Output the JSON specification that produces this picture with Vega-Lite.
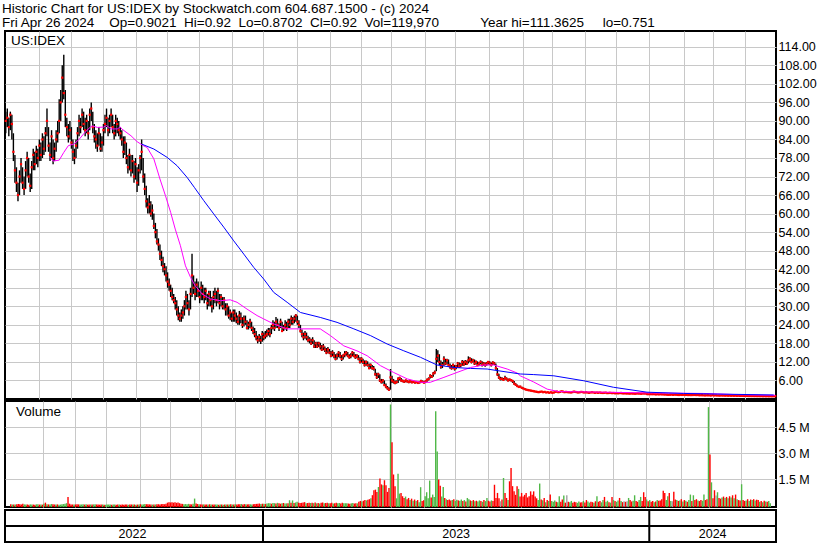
{
"$schema":"https://vega.github.io/schema/vega-lite/v6.json",
"background":"white",
"padding":{"left":2,"top":2,"right":0,"bottom":0},
"spacing":0,
"title":{"text":["Historic Chart for US:IDEX by Stockwatch.com 604.687.1500 - (c) 2024","Fri Apr 26 2024 \u00a0\u00a0\u00a0Op=0.9021 \u00a0Hi=0.92 \u00a0Lo=0.8702 \u00a0Cl=0.92 \u00a0Vol=119,970 \u00a0\u00a0\u00a0\u00a0\u00a0\u00a0\u00a0\u00a0\u00a0\u00a0Year hi=111.3625 \u00a0\u00a0\u00a0\u00a0lo=0.751"],"anchor":"start","font":"Liberation Sans","fontSize":13.5,"fontWeight":"normal","lineHeight":13.5,"color":"black","offset":1,"dx":-1},
"config":{"view":{"stroke":"black","strokeWidth":2},"axis":{"labelFont":"Liberation Sans","labelFontSize":12.5,"labelColor":"black","gridColor":"#c8c8c8","gridWidth":1,"ticks":false,"domain":false,"title":null,"labelOverlap":false}},
"datasets":{
"px":[
{"i":0,"h":93,"l":86,"c":90,"v":60,"s":"d"},{"i":1,"h":94,"l":88,"c":91,"v":45,"s":"u"},{"i":2,"h":91,"l":85,"c":88,"v":50,"s":"d"},{"i":3,"h":93,"l":87,"c":92,"v":40,"s":"u"},{"i":4,"h":92,"l":84,"c":89,"v":55,"s":"d"},
{"i":5,"h":86,"l":77,"c":80,"v":70,"s":"d"},{"i":6,"h":79,"l":70,"c":74,"v":60,"s":"d"},{"i":7,"h":75,"l":67,"c":70,"v":45,"s":"d"},{"i":8,"h":70,"l":64,"c":66,"v":80,"s":"d"},{"i":9,"h":74,"l":66,"c":72,"v":50,"s":"u"},
{"i":10,"h":78,"l":70,"c":76,"v":40,"s":"u"},{"i":11,"h":75,"l":68,"c":70,"v":45,"s":"d"},{"i":12,"h":72,"l":66,"c":68,"v":35,"s":"d"},{"i":13,"h":77,"l":68,"c":74,"v":50,"s":"u"},{"i":14,"h":80,"l":72,"c":78,"v":45,"s":"u"},
{"i":15,"h":78,"l":70,"c":72,"v":40,"s":"d"},{"i":16,"h":73,"l":67,"c":69,"v":35,"s":"d"},{"i":17,"h":77,"l":68,"c":75,"v":55,"s":"u"},{"i":18,"h":81,"l":74,"c":79,"v":60,"s":"u"},{"i":19,"h":80,"l":74,"c":76,"v":40,"s":"d"},
{"i":20,"h":82,"l":76,"c":80,"v":45,"s":"u"},{"i":21,"h":81,"l":75,"c":78,"v":35,"s":"d"},{"i":22,"h":84,"l":77,"c":82,"v":90,"s":"u"},{"i":23,"h":83,"l":77,"c":79,"v":150,"s":"d"},{"i":24,"h":86,"l":78,"c":84,"v":60,"s":"u"},
{"i":25,"h":85,"l":79,"c":81,"v":50,"s":"d"},{"i":26,"h":88,"l":80,"c":86,"v":45,"s":"u"},{"i":27,"h":94,"l":85,"c":90,"v":70,"s":"u"},{"i":28,"h":88,"l":80,"c":82,"v":55,"s":"d"},{"i":29,"h":83,"l":77,"c":79,"v":45,"s":"d"},
{"i":30,"h":87,"l":78,"c":85,"v":40,"s":"u"},{"i":31,"h":84,"l":76,"c":78,"v":50,"s":"d"},{"i":32,"h":83,"l":77,"c":81,"v":35,"s":"u"},{"i":33,"h":87,"l":80,"c":84,"v":40,"s":"u"},{"i":34,"h":90,"l":83,"c":86,"v":60,"s":"u"},
{"i":35,"h":97,"l":86,"c":90,"v":70,"s":"u"},{"i":36,"h":100,"l":90,"c":96,"v":80,"s":"u"},{"i":37,"h":108,"l":96,"c":104,"v":120,"s":"u"},{"i":38,"h":111.4,"l":97,"c":99,"v":480,"s":"d"},{"i":39,"h":100,"l":88,"c":92,"v":90,"s":"d"},
{"i":40,"h":91,"l":85,"c":88,"v":50,"s":"d"},{"i":41,"h":89,"l":83,"c":85,"v":45,"s":"d"},{"i":42,"h":90,"l":84,"c":87,"v":40,"s":"u"},{"i":43,"h":88,"l":81,"c":83,"v":45,"s":"d"},{"i":44,"h":84,"l":77,"c":80,"v":55,"s":"d"},
{"i":45,"h":81,"l":76,"c":78,"v":50,"s":"d"},{"i":46,"h":84,"l":78,"c":82,"v":40,"s":"u"},{"i":47,"h":88,"l":81,"c":86,"v":45,"s":"u"},{"i":48,"h":92,"l":85,"c":90,"v":60,"s":"u"},{"i":49,"h":91,"l":86,"c":88,"v":40,"s":"d"},
{"i":50,"h":94,"l":88,"c":92,"v":55,"s":"u"},{"i":51,"h":93,"l":87,"c":89,"v":35,"s":"d"},{"i":52,"h":91,"l":85,"c":87,"v":40,"s":"d"},{"i":53,"h":92,"l":86,"c":90,"v":45,"s":"u"},{"i":54,"h":90,"l":84,"c":86,"v":40,"s":"d"},
{"i":55,"h":94,"l":87,"c":92,"v":50,"s":"u"},{"i":56,"h":96,"l":90,"c":94,"v":60,"s":"u"},{"i":57,"h":93,"l":86,"c":88,"v":45,"s":"d"},{"i":58,"h":89,"l":83,"c":85,"v":40,"s":"d"},{"i":59,"h":87,"l":81,"c":84,"v":35,"s":"d"},
{"i":60,"h":86,"l":80,"c":82,"v":40,"s":"d"},{"i":61,"h":88,"l":82,"c":86,"v":45,"s":"u"},{"i":62,"h":86,"l":80,"c":81,"v":35,"s":"d"},{"i":63,"h":85,"l":80,"c":83,"v":30,"s":"u"},{"i":64,"h":89,"l":82,"c":87,"v":40,"s":"u"},
{"i":65,"h":92,"l":86,"c":89,"v":45,"s":"u"},{"i":66,"h":94,"l":88,"c":91,"v":50,"s":"u"},{"i":67,"h":91,"l":85,"c":87,"v":35,"s":"d"},{"i":68,"h":92,"l":86,"c":90,"v":40,"s":"u"},{"i":69,"h":94,"l":88,"c":92,"v":45,"s":"u"},
{"i":70,"h":92,"l":86,"c":88,"v":35,"s":"d"},{"i":71,"h":89,"l":84,"c":86,"v":40,"s":"d"},{"i":72,"h":92,"l":85,"c":90,"v":45,"s":"u"},{"i":73,"h":91,"l":86,"c":89,"v":35,"s":"d"},{"i":74,"h":90,"l":85,"c":87,"v":40,"s":"d"},
{"i":75,"h":88,"l":84,"c":86,"v":35,"s":"d"},{"i":76,"h":87,"l":82,"c":84,"v":40,"s":"d"},{"i":77,"h":85,"l":78,"c":80,"v":45,"s":"d"},{"i":78,"h":85,"l":79,"c":83,"v":35,"s":"u"},{"i":79,"h":83,"l":76,"c":78,"v":50,"s":"d"},
{"i":80,"h":79,"l":73,"c":75,"v":45,"s":"d"},{"i":81,"h":81,"l":74,"c":79,"v":40,"s":"u"},{"i":82,"h":79,"l":72,"c":74,"v":45,"s":"d"},{"i":83,"h":79,"l":73,"c":77,"v":35,"s":"u"},{"i":84,"h":77,"l":70,"c":72,"v":40,"s":"d"},
{"i":85,"h":78,"l":71,"c":76,"v":45,"s":"u"},{"i":86,"h":75,"l":67,"c":70,"v":60,"s":"d"},{"i":87,"h":76,"l":69,"c":74,"v":45,"s":"u"},{"i":88,"h":79,"l":73,"c":78,"v":50,"s":"u"},{"i":89,"h":84,"l":74,"c":80,"v":70,"s":"u"},
{"i":90,"h":78,"l":70,"c":72,"v":60,"s":"d"},{"i":91,"h":73,"l":66,"c":68,"v":55,"s":"d"},{"i":92,"h":69,"l":62,"c":64,"v":50,"s":"d"},{"i":93,"h":65,"l":60,"c":62,"v":45,"s":"d"},{"i":94,"h":66,"l":60,"c":63,"v":40,"s":"u"},
{"i":95,"h":64,"l":59,"c":60,"v":50,"s":"d"},{"i":96,"h":63,"l":58,"c":61,"v":45,"s":"u"},{"i":97,"h":60,"l":55,"c":56,"v":55,"s":"d"},{"i":98,"h":57,"l":52,"c":54,"v":60,"s":"d"},{"i":99,"h":55,"l":50,"c":51,"v":50,"s":"d"},
{"i":100,"h":52,"l":48,"c":50,"v":65,"s":"d"},{"i":101,"h":50,"l":45,"c":47,"v":70,"s":"d"},{"i":102,"h":48,"l":43,"c":45,"v":60,"s":"d"},{"i":103,"h":46,"l":41,"c":43,"v":80,"s":"d"},{"i":104,"h":44,"l":40,"c":42,"v":150,"s":"d"},
{"i":105,"h":43,"l":38,"c":40,"v":170,"s":"d"},{"i":106,"h":41,"l":36,"c":38,"v":160,"s":"d"},{"i":107,"h":39,"l":35,"c":37,"v":180,"s":"d"},{"i":108,"h":37,"l":33,"c":35,"v":150,"s":"d"},{"i":109,"h":36,"l":32,"c":33,"v":170,"s":"d"},
{"i":110,"h":34,"l":31,"c":32,"v":140,"s":"d"},{"i":111,"h":33,"l":29,"c":31,"v":160,"s":"d"},{"i":112,"h":32,"l":27,"c":29,"v":120,"s":"d"},{"i":113,"h":30,"l":25.5,"c":27,"v":90,"s":"d"},{"i":114,"h":28,"l":25,"c":26,"v":80,"s":"d"},
{"i":115,"h":29,"l":25,"c":27,"v":60,"s":"u"},{"i":116,"h":30,"l":26,"c":28,"v":70,"s":"u"},{"i":117,"h":32,"l":27,"c":30,"v":60,"s":"u"},{"i":118,"h":35,"l":29,"c":33,"v":80,"s":"u"},{"i":119,"h":34,"l":29,"c":31,"v":60,"s":"d"},
{"i":120,"h":32,"l":27,"c":29,"v":50,"s":"d"},{"i":121,"h":36,"l":29,"c":34,"v":90,"s":"u"},{"i":122,"h":47,"l":33,"c":40,"v":385,"s":"u"},{"i":123,"h":40,"l":34,"c":36,"v":100,"s":"d"},{"i":124,"h":38,"l":32,"c":34,"v":70,"s":"d"},
{"i":125,"h":39,"l":33,"c":37,"v":60,"s":"u"},{"i":126,"h":38,"l":33,"c":35,"v":50,"s":"d"},{"i":127,"h":36,"l":31,"c":33,"v":45,"s":"d"},{"i":128,"h":38,"l":32,"c":36,"v":50,"s":"u"},{"i":129,"h":37,"l":32,"c":34,"v":40,"s":"d"},
{"i":130,"h":36,"l":31,"c":33,"v":45,"s":"d"},{"i":131,"h":36,"l":32,"c":35,"v":40,"s":"u"},{"i":132,"h":34,"l":29,"c":31,"v":55,"s":"d"},{"i":133,"h":35,"l":30,"c":34,"v":45,"s":"u"},{"i":134,"h":35,"l":30,"c":32,"v":40,"s":"d"},
{"i":135,"h":33,"l":28,"c":30,"v":50,"s":"d"},{"i":136,"h":35,"l":29,"c":33,"v":45,"s":"u"},{"i":137,"h":36,"l":31,"c":34,"v":40,"s":"u"},{"i":138,"h":35,"l":30,"c":32,"v":35,"s":"d"},{"i":139,"h":36,"l":31,"c":35,"v":45,"s":"u"},
{"i":140,"h":34,"l":29,"c":31,"v":40,"s":"d"},{"i":141,"h":34,"l":30,"c":33,"v":35,"s":"u"},{"i":142,"h":33,"l":29,"c":30,"v":45,"s":"d"},{"i":143,"h":33,"l":29,"c":32,"v":40,"s":"u"},{"i":144,"h":31,"l":27,"c":29,"v":50,"s":"d"},
{"i":145,"h":31,"l":27,"c":30,"v":45,"s":"u"},{"i":146,"h":30,"l":26,"c":27,"v":55,"s":"d"},{"i":147,"h":29,"l":25.5,"c":28,"v":50,"s":"u"},{"i":148,"h":28,"l":25,"c":26,"v":45,"s":"d"},{"i":149,"h":29,"l":25,"c":28,"v":60,"s":"u"},
{"i":150,"h":29,"l":25,"c":27,"v":50,"s":"d"},{"i":151,"h":28,"l":24.5,"c":26,"v":55,"s":"d"},{"i":152,"h":27,"l":24,"c":25,"v":60,"s":"d"},{"i":153,"h":28.5,"l":24,"c":27,"v":70,"s":"u"},{"i":154,"h":28,"l":24.5,"c":26,"v":50,"s":"d"},
{"i":155,"h":26.5,"l":23,"c":24,"v":65,"s":"d"},{"i":156,"h":27,"l":23.5,"c":26,"v":55,"s":"u"},{"i":157,"h":27,"l":24,"c":25,"v":50,"s":"d"},{"i":158,"h":25.5,"l":22.5,"c":23,"v":60,"s":"d"},{"i":159,"h":25,"l":22.5,"c":24,"v":55,"s":"u"},
{"i":160,"h":26,"l":23,"c":25,"v":45,"s":"u"},{"i":161,"h":25,"l":22,"c":23,"v":60,"s":"d"},{"i":162,"h":23.5,"l":21,"c":22,"v":70,"s":"d"},{"i":163,"h":23,"l":20,"c":21,"v":80,"s":"d"},{"i":164,"h":22,"l":19,"c":20,"v":90,"s":"d"},
{"i":165,"h":20.5,"l":18,"c":19,"v":100,"s":"d"},{"i":166,"h":21,"l":18.5,"c":20,"v":70,"s":"u"},{"i":167,"h":20.5,"l":17.8,"c":19,"v":90,"s":"d"},{"i":168,"h":22,"l":18.5,"c":21,"v":80,"s":"u"},{"i":169,"h":21.5,"l":19,"c":20,"v":70,"s":"d"},
{"i":170,"h":22,"l":19.5,"c":20.5,"v":100,"s":"u"},{"i":171,"h":22.5,"l":20,"c":21,"v":120,"s":"u"},{"i":172,"h":23,"l":20.5,"c":22,"v":110,"s":"u"},{"i":173,"h":23,"l":20,"c":21,"v":90,"s":"d"},{"i":174,"h":24,"l":21,"c":23,"v":130,"s":"u"},
{"i":175,"h":25.5,"l":22.5,"c":24,"v":120,"s":"u"},{"i":176,"h":25,"l":22,"c":23,"v":100,"s":"d"},{"i":177,"h":26.5,"l":23,"c":25,"v":140,"s":"u"},{"i":178,"h":26,"l":23,"c":24,"v":110,"s":"d"},{"i":179,"h":24.5,"l":22,"c":23,"v":90,"s":"d"},
{"i":180,"h":26,"l":23,"c":25,"v":120,"s":"u"},{"i":181,"h":25,"l":21.7,"c":22,"v":130,"s":"d"},{"i":182,"h":24,"l":22,"c":23,"v":100,"s":"u"},{"i":183,"h":25.5,"l":22.5,"c":24,"v":110,"s":"u"},{"i":184,"h":25,"l":22,"c":23,"v":120,"s":"d"},
{"i":185,"h":26,"l":23,"c":25,"v":290,"s":"u"},{"i":186,"h":26,"l":23,"c":24,"v":150,"s":"d"},{"i":187,"h":27,"l":24,"c":26,"v":280,"s":"u"},{"i":188,"h":26.5,"l":24,"c":25,"v":130,"s":"d"},{"i":189,"h":27,"l":24.5,"c":26,"v":160,"s":"u"},
{"i":190,"h":27.5,"l":25,"c":27,"v":200,"s":"u"},{"i":191,"h":27,"l":24,"c":25,"v":150,"s":"d"},{"i":192,"h":25.5,"l":23,"c":24,"v":130,"s":"d"},{"i":193,"h":24,"l":21.5,"c":22,"v":140,"s":"d"},{"i":194,"h":22.5,"l":20,"c":21,"v":160,"s":"d"},
{"i":195,"h":21.5,"l":19,"c":20,"v":180,"s":"d"},{"i":196,"h":22,"l":19.5,"c":21,"v":120,"s":"u"},{"i":197,"h":21.5,"l":19,"c":20,"v":130,"s":"d"},{"i":198,"h":20.5,"l":18.4,"c":19,"v":150,"s":"d"},{"i":199,"h":20,"l":18,"c":19.2,"v":130,"s":"u"},
{"i":200,"h":19.5,"l":17.5,"c":18,"v":150,"s":"d"},{"i":201,"h":20,"l":17.8,"c":19,"v":120,"s":"u"},{"i":202,"h":19,"l":16.5,"c":17,"v":160,"s":"d"},{"i":203,"h":18.5,"l":16.5,"c":18,"v":110,"s":"u"},{"i":204,"h":18.5,"l":16.5,"c":17,"v":130,"s":"d"},
{"i":205,"h":18.5,"l":16.8,"c":18,"v":100,"s":"u"},{"i":206,"h":18.2,"l":16,"c":17,"v":140,"s":"d"},{"i":207,"h":17.5,"l":15.5,"c":16,"v":160,"s":"d"},{"i":208,"h":17.8,"l":15.8,"c":17,"v":120,"s":"u"},{"i":209,"h":17,"l":15.2,"c":16,"v":130,"s":"d"},
{"i":210,"h":16.5,"l":14.5,"c":15,"v":150,"s":"d"},{"i":211,"h":16.8,"l":14.8,"c":16,"v":110,"s":"u"},{"i":212,"h":16.2,"l":14.5,"c":15,"v":120,"s":"d"},{"i":213,"h":15.5,"l":13.5,"c":14,"v":140,"s":"d"},{"i":214,"h":15.8,"l":13.8,"c":15,"v":100,"s":"u"},
{"i":215,"h":15.2,"l":13.2,"c":14,"v":120,"s":"d"},{"i":216,"h":14.5,"l":12.5,"c":13,"v":150,"s":"d"},{"i":217,"h":14.8,"l":12.8,"c":14,"v":110,"s":"u"},{"i":218,"h":15.5,"l":13.5,"c":15,"v":130,"s":"u"},{"i":219,"h":15.2,"l":13.2,"c":14,"v":100,"s":"d"},
{"i":220,"h":14.2,"l":12.3,"c":13,"v":140,"s":"d"},{"i":221,"h":14.5,"l":12.8,"c":14,"v":120,"s":"u"},{"i":222,"h":15.5,"l":13.5,"c":14.5,"v":110,"s":"u"},{"i":223,"h":15.5,"l":14,"c":15,"v":120,"s":"u"},{"i":224,"h":15.2,"l":13.5,"c":14,"v":100,"s":"d"},
{"i":225,"h":14.5,"l":13,"c":13.5,"v":90,"s":"d"},{"i":226,"h":14.8,"l":13.2,"c":14,"v":110,"s":"u"},{"i":227,"h":15.5,"l":13.8,"c":15,"v":130,"s":"u"},{"i":228,"h":15.2,"l":13.5,"c":14,"v":100,"s":"d"},{"i":229,"h":14.5,"l":13,"c":13.5,"v":120,"s":"d"},
{"i":230,"h":14.5,"l":13.2,"c":14,"v":110,"s":"u"},{"i":231,"h":14.2,"l":12.5,"c":13,"v":200,"s":"d"},{"i":232,"h":13.5,"l":11.5,"c":12,"v":250,"s":"d"},{"i":233,"h":13.5,"l":11.8,"c":13,"v":220,"s":"u"},{"i":234,"h":13,"l":11.3,"c":12,"v":260,"s":"d"},
{"i":235,"h":12.5,"l":10.5,"c":11,"v":300,"s":"d"},{"i":236,"h":12.5,"l":10.8,"c":12,"v":280,"s":"u"},{"i":237,"h":12.2,"l":10.5,"c":11,"v":320,"s":"d"},{"i":238,"h":11.5,"l":9.6,"c":10,"v":350,"s":"d"},{"i":239,"h":11.5,"l":9.8,"c":11,"v":400,"s":"u"},
{"i":240,"h":11,"l":9.5,"c":10,"v":580,"s":"d"},{"i":241,"h":10.7,"l":9.2,"c":9.8,"v":865,"s":"d"},{"i":242,"h":9.8,"l":7.5,"c":8,"v":900,"s":"d"},{"i":243,"h":8.5,"l":6.5,"c":7,"v":770,"s":"d"},{"i":244,"h":8.5,"l":6.8,"c":8,"v":1050,"s":"u"},
{"i":245,"h":8,"l":5.5,"c":6,"v":1540,"s":"d"},{"i":246,"h":6.5,"l":5,"c":5.5,"v":1200,"s":"d"},{"i":247,"h":6.5,"l":5,"c":6,"v":1150,"s":"u"},{"i":248,"h":6,"l":4.2,"c":4.5,"v":1440,"s":"d"},{"i":249,"h":5,"l":3.5,"c":4,"v":1150,"s":"d"},
{"i":250,"h":4.2,"l":3,"c":3.5,"v":770,"s":"d"},{"i":251,"h":3.8,"l":2.6,"c":3,"v":1000,"s":"d"},{"i":252,"h":9.7,"l":3,"c":7,"v":5800,"s":"u"},{"i":253,"h":7.5,"l":5.2,"c":6,"v":3630,"s":"d"},{"i":254,"h":6.5,"l":5,"c":5.6,"v":1770,"s":"d"},
{"i":255,"h":6,"l":4.8,"c":5.2,"v":1100,"s":"d"},{"i":256,"h":6,"l":5,"c":5.5,"v":400,"s":"u"},{"i":257,"h":7,"l":5.2,"c":6.5,"v":1820,"s":"u"},{"i":258,"h":7.2,"l":6,"c":6.8,"v":670,"s":"u"},{"i":259,"h":6.8,"l":5.6,"c":6,"v":710,"s":"d"},
{"i":260,"h":6.3,"l":5.4,"c":5.8,"v":520,"s":"d"},{"i":261,"h":6,"l":5.2,"c":5.6,"v":420,"s":"d"},{"i":262,"h":6.3,"l":5.4,"c":6,"v":500,"s":"u"},{"i":263,"h":6.1,"l":5.3,"c":5.7,"v":350,"s":"d"},{"i":264,"h":5.9,"l":5.1,"c":5.5,"v":420,"s":"d"},
{"i":265,"h":6.1,"l":5.3,"c":5.8,"v":300,"s":"u"},{"i":266,"h":5.9,"l":5.1,"c":5.4,"v":380,"s":"d"},{"i":267,"h":5.9,"l":5.2,"c":5.6,"v":260,"s":"u"},{"i":268,"h":5.7,"l":5,"c":5.3,"v":330,"s":"d"},{"i":269,"h":5.8,"l":5.1,"c":5.5,"v":250,"s":"u"},
{"i":270,"h":5.6,"l":4.9,"c":5.2,"v":300,"s":"d"},{"i":271,"h":5.7,"l":5,"c":5.4,"v":180,"s":"u"},{"i":272,"h":6.2,"l":5.2,"c":5.8,"v":1040,"s":"u"},{"i":273,"h":6,"l":5.2,"c":5.5,"v":250,"s":"d"},{"i":274,"h":5.8,"l":5,"c":5.3,"v":290,"s":"d"},
{"i":275,"h":6,"l":5.2,"c":5.7,"v":520,"s":"u"},{"i":276,"h":6.6,"l":5.6,"c":6.2,"v":750,"s":"u"},{"i":277,"h":7,"l":6,"c":6.5,"v":400,"s":"u"},{"i":278,"h":8,"l":6.6,"c":7.5,"v":1420,"s":"u"},{"i":279,"h":7.8,"l":6.8,"c":7.2,"v":450,"s":"d"},
{"i":280,"h":8.7,"l":7.2,"c":8.2,"v":615,"s":"u"},{"i":281,"h":9.2,"l":8,"c":8.6,"v":480,"s":"u"},{"i":282,"h":16.2,"l":9,"c":13,"v":5410,"s":"u"},{"i":283,"h":15.8,"l":12,"c":14,"v":3100,"s":"u"},{"i":284,"h":14.5,"l":11,"c":12,"v":1480,"s":"d"},
{"i":285,"h":12.5,"l":9.8,"c":10.5,"v":1130,"s":"d"},{"i":286,"h":12,"l":10,"c":11,"v":500,"s":"u"},{"i":287,"h":13.8,"l":10.8,"c":13,"v":1050,"s":"u"},{"i":288,"h":13,"l":11,"c":11.5,"v":420,"s":"d"},{"i":289,"h":13,"l":11.2,"c":12.5,"v":350,"s":"u"},
{"i":290,"h":12.8,"l":10.5,"c":11,"v":300,"s":"d"},{"i":291,"h":11.5,"l":9.8,"c":10.5,"v":330,"s":"d"},{"i":292,"h":11,"l":9.5,"c":10,"v":280,"s":"d"},{"i":293,"h":11.5,"l":9.8,"c":11,"v":300,"s":"u"},{"i":294,"h":11,"l":9.2,"c":9.8,"v":350,"s":"d"},
{"i":295,"h":11,"l":9.6,"c":10.5,"v":250,"s":"u"},{"i":296,"h":12,"l":10.2,"c":11.5,"v":320,"s":"u"},{"i":297,"h":11.8,"l":10,"c":10.5,"v":280,"s":"d"},{"i":298,"h":11.6,"l":10.3,"c":11,"v":260,"s":"u"},{"i":299,"h":12.6,"l":10.8,"c":12,"v":330,"s":"u"},
{"i":300,"h":12.4,"l":10.8,"c":11.2,"v":240,"s":"d"},{"i":301,"h":12.6,"l":11,"c":12,"v":300,"s":"u"},{"i":302,"h":12.5,"l":11,"c":11.5,"v":220,"s":"d"},{"i":303,"h":13.8,"l":11.5,"c":12.5,"v":420,"s":"u"},{"i":304,"h":13.5,"l":12,"c":13,"v":350,"s":"u"},
{"i":305,"h":13.2,"l":11.5,"c":12,"v":280,"s":"d"},{"i":306,"h":13,"l":11.8,"c":12.5,"v":250,"s":"u"},{"i":307,"h":12.8,"l":11,"c":11.5,"v":300,"s":"d"},{"i":308,"h":12.5,"l":11.2,"c":12,"v":230,"s":"u"},{"i":309,"h":12.2,"l":10.6,"c":11,"v":260,"s":"d"},
{"i":310,"h":12,"l":10.8,"c":11.5,"v":210,"s":"u"},{"i":311,"h":12.5,"l":11.2,"c":12,"v":280,"s":"u"},{"i":312,"h":12.2,"l":10.5,"c":11,"v":250,"s":"d"},{"i":313,"h":12,"l":10.8,"c":11.5,"v":200,"s":"u"},{"i":314,"h":11.8,"l":10.4,"c":11,"v":300,"s":"d"},
{"i":315,"h":12,"l":10.8,"c":11.5,"v":240,"s":"u"},{"i":316,"h":12.3,"l":11.2,"c":12,"v":420,"s":"u"},{"i":317,"h":12.2,"l":11,"c":11.5,"v":260,"s":"d"},{"i":318,"h":11.8,"l":10.5,"c":11,"v":220,"s":"d"},{"i":319,"h":12.2,"l":11,"c":11.8,"v":280,"s":"u"},
{"i":320,"h":12,"l":11,"c":11.5,"v":250,"s":"d"},{"i":321,"h":11.5,"l":9.5,"c":10,"v":1180,"s":"d"},{"i":322,"h":10,"l":7.5,"c":8,"v":420,"s":"d"},{"i":323,"h":8.2,"l":6.5,"c":7,"v":710,"s":"d"},{"i":324,"h":7.2,"l":6,"c":6.5,"v":400,"s":"d"},
{"i":325,"h":7,"l":6.1,"c":6.5,"v":230,"s":"n"},{"i":326,"h":6.8,"l":5.9,"c":6.2,"v":330,"s":"d"},{"i":327,"h":7.5,"l":6.2,"c":6.8,"v":1570,"s":"u"},{"i":328,"h":7,"l":6,"c":6.5,"v":710,"s":"d"},{"i":329,"h":6.6,"l":5.7,"c":6,"v":420,"s":"d"},
{"i":330,"h":6.6,"l":5.8,"c":6.3,"v":300,"s":"u"},{"i":331,"h":6.5,"l":5.7,"c":6.1,"v":1380,"s":"d"},{"i":332,"h":6.2,"l":5.2,"c":5.8,"v":2150,"s":"d"},{"i":333,"h":5.8,"l":4.6,"c":5,"v":1100,"s":"d"},{"i":334,"h":5.1,"l":4.3,"c":4.6,"v":800,"s":"d"},
{"i":335,"h":4.7,"l":3.9,"c":4.2,"v":600,"s":"d"},{"i":336,"h":4.3,"l":3.6,"c":3.9,"v":1100,"s":"d"},{"i":337,"h":4.3,"l":3.7,"c":4,"v":940,"s":"u"},{"i":338,"h":4,"l":3.4,"c":3.6,"v":500,"s":"d"},{"i":339,"h":3.7,"l":3.2,"c":3.4,"v":710,"s":"d"},
{"i":340,"h":3.5,"l":3,"c":3.2,"v":500,"s":"d"},{"i":341,"h":3.3,"l":2.8,"c":3,"v":600,"s":"d"},{"i":342,"h":3.1,"l":2.7,"c":2.9,"v":710,"s":"d"},{"i":343,"h":3,"l":2.6,"c":2.8,"v":450,"s":"d"},{"i":344,"h":2.9,"l":2.5,"c":2.7,"v":520,"s":"d"},
{"i":345,"h":2.8,"l":2.4,"c":2.6,"v":800,"s":"d"},{"i":346,"h":2.7,"l":2.3,"c":2.5,"v":600,"s":"d"},{"i":347,"h":2.6,"l":2.2,"c":2.4,"v":800,"s":"d"},{"i":348,"h":2.5,"l":2.1,"c":2.3,"v":500,"s":"d"},{"i":349,"h":2.4,"l":2.05,"c":2.2,"v":400,"s":"d"},
{"i":350,"h":2.5,"l":2.1,"c":2.3,"v":300,"s":"u"},{"i":351,"h":2.6,"l":2.2,"c":2.4,"v":1250,"s":"u"},{"i":352,"h":2.45,"l":2.1,"c":2.2,"v":330,"s":"d"},{"i":353,"h":2.4,"l":2.1,"c":2.3,"v":290,"s":"u"},{"i":354,"h":2.3,"l":2,"c":2.1,"v":420,"s":"d"},
{"i":355,"h":2.3,"l":2,"c":2.2,"v":180,"s":"u"},{"i":356,"h":2.25,"l":1.95,"c":2,"v":300,"s":"d"},{"i":357,"h":2.3,"l":2,"c":2.2,"v":250,"s":"u"},{"i":358,"h":2.25,"l":1.9,"c":2,"v":615,"s":"d"},{"i":359,"h":2.2,"l":1.95,"c":2.1,"v":250,"s":"u"},
{"i":360,"h":2.4,"l":2.05,"c":2.3,"v":200,"s":"u"},{"i":361,"h":2.5,"l":2.2,"c":2.4,"v":280,"s":"u"},{"i":362,"h":2.45,"l":2.1,"c":2.2,"v":200,"s":"d"},{"i":363,"h":2.4,"l":2.15,"c":2.3,"v":180,"s":"u"},{"i":364,"h":2.6,"l":2.25,"c":2.5,"v":520,"s":"u"},
{"i":365,"h":2.55,"l":2.3,"c":2.4,"v":200,"s":"d"},{"i":366,"h":2.45,"l":2.1,"c":2.2,"v":330,"s":"d"},{"i":367,"h":2.4,"l":2.15,"c":2.3,"v":560,"s":"u"},{"i":368,"h":2.35,"l":2.1,"c":2.2,"v":150,"s":"d"},{"i":369,"h":2.3,"l":2.1,"c":2.2,"v":575,"s":"n"},
{"i":370,"h":2.25,"l":2,"c":2.1,"v":200,"s":"d"},{"i":371,"h":2.3,"l":2.05,"c":2.2,"v":180,"s":"u"},{"i":372,"h":2.5,"l":2.15,"c":2.4,"v":250,"s":"u"},{"i":373,"h":2.45,"l":2.2,"c":2.3,"v":150,"s":"d"},{"i":374,"h":2.35,"l":2.1,"c":2.2,"v":200,"s":"d"},
{"i":375,"h":2.25,"l":2,"c":2.1,"v":170,"s":"d"},{"i":376,"h":2.3,"l":2.05,"c":2.2,"v":140,"s":"u"},{"i":377,"h":2.35,"l":2.15,"c":2.3,"v":210,"s":"u"},{"i":378,"h":2.3,"l":2.1,"c":2.2,"v":160,"s":"d"},{"i":379,"h":2.25,"l":2,"c":2.1,"v":180,"s":"d"},
{"i":380,"h":2.3,"l":2.05,"c":2.2,"v":250,"s":"u"},{"i":381,"h":2.25,"l":2,"c":2.1,"v":160,"s":"d"},{"i":382,"h":2.15,"l":1.95,"c":2,"v":300,"s":"d"},{"i":383,"h":2.2,"l":1.95,"c":2.1,"v":220,"s":"u"},{"i":384,"h":2.3,"l":2.05,"c":2.2,"v":150,"s":"u"},
{"i":385,"h":2.25,"l":2,"c":2.1,"v":200,"s":"d"},{"i":386,"h":2.15,"l":1.9,"c":2,"v":180,"s":"d"},{"i":387,"h":2.15,"l":1.95,"c":2.1,"v":140,"s":"u"},{"i":388,"h":2.1,"l":1.9,"c":2,"v":230,"s":"d"},{"i":389,"h":2.2,"l":1.95,"c":2.1,"v":520,"s":"u"},
{"i":390,"h":2.15,"l":1.9,"c":2,"v":200,"s":"d"},{"i":391,"h":2.05,"l":1.85,"c":1.95,"v":250,"s":"d"},{"i":392,"h":2.1,"l":1.9,"c":2,"v":170,"s":"u"},{"i":393,"h":2.15,"l":1.95,"c":2.05,"v":300,"s":"u"},{"i":394,"h":2.1,"l":1.85,"c":1.9,"v":480,"s":"d"},
{"i":395,"h":2.05,"l":1.85,"c":1.95,"v":200,"s":"u"},{"i":396,"h":2.1,"l":1.9,"c":2,"v":260,"s":"u"},{"i":397,"h":2.05,"l":1.85,"c":1.9,"v":180,"s":"d"},{"i":398,"h":2,"l":1.85,"c":1.95,"v":150,"s":"u"},{"i":399,"h":2,"l":1.8,"c":1.85,"v":480,"s":"d"},
{"i":400,"h":1.95,"l":1.8,"c":1.9,"v":300,"s":"u"},{"i":401,"h":1.95,"l":1.78,"c":1.85,"v":250,"s":"d"},{"i":402,"h":1.95,"l":1.8,"c":1.9,"v":200,"s":"u"},{"i":403,"h":2,"l":1.85,"c":1.95,"v":280,"s":"u"},{"i":404,"h":1.95,"l":1.75,"c":1.8,"v":420,"s":"d"},
{"i":405,"h":1.9,"l":1.75,"c":1.85,"v":250,"s":"u"},{"i":406,"h":1.9,"l":1.72,"c":1.8,"v":180,"s":"d"},{"i":407,"h":1.85,"l":1.75,"c":1.8,"v":230,"s":"n"},{"i":408,"h":1.85,"l":1.7,"c":1.75,"v":200,"s":"d"},{"i":409,"h":1.8,"l":1.7,"c":1.75,"v":230,"s":"n"},
{"i":410,"h":1.85,"l":1.7,"c":1.8,"v":420,"s":"u"},{"i":411,"h":1.85,"l":1.7,"c":1.75,"v":300,"s":"d"},{"i":412,"h":1.8,"l":1.65,"c":1.7,"v":220,"s":"d"},{"i":413,"h":1.8,"l":1.65,"c":1.75,"v":260,"s":"u"},{"i":414,"h":1.85,"l":1.7,"c":1.8,"v":575,"s":"u"},
{"i":415,"h":1.85,"l":1.7,"c":1.75,"v":250,"s":"d"},{"i":416,"h":1.8,"l":1.65,"c":1.7,"v":200,"s":"d"},{"i":417,"h":1.8,"l":1.68,"c":1.75,"v":300,"s":"u"},{"i":418,"h":1.85,"l":1.7,"c":1.8,"v":480,"s":"u"},{"i":419,"h":1.85,"l":1.7,"c":1.75,"v":250,"s":"d"},
{"i":420,"h":1.75,"l":1.55,"c":1.6,"v":750,"s":"d"},{"i":421,"h":1.65,"l":1.5,"c":1.55,"v":480,"s":"d"},{"i":422,"h":1.65,"l":1.5,"c":1.6,"v":330,"s":"u"},{"i":423,"h":1.65,"l":1.5,"c":1.55,"v":230,"s":"d"},{"i":424,"h":1.65,"l":1.52,"c":1.6,"v":300,"s":"u"},
{"i":425,"h":1.62,"l":1.5,"c":1.55,"v":200,"s":"d"},{"i":426,"h":1.6,"l":1.45,"c":1.5,"v":250,"s":"d"},{"i":427,"h":1.6,"l":1.48,"c":1.55,"v":180,"s":"u"},{"i":428,"h":1.58,"l":1.45,"c":1.5,"v":220,"s":"d"},{"i":429,"h":1.6,"l":1.48,"c":1.55,"v":300,"s":"u"},
{"i":430,"h":1.58,"l":1.45,"c":1.5,"v":260,"s":"d"},{"i":431,"h":1.55,"l":1.42,"c":1.48,"v":280,"s":"d"},{"i":432,"h":1.52,"l":1.4,"c":1.45,"v":350,"s":"d"},{"i":433,"h":1.5,"l":1.35,"c":1.4,"v":830,"s":"d"},{"i":434,"h":1.45,"l":1.3,"c":1.35,"v":710,"s":"d"},
{"i":435,"h":1.45,"l":1.32,"c":1.38,"v":300,"s":"u"},{"i":436,"h":1.48,"l":1.35,"c":1.42,"v":520,"s":"u"},{"i":437,"h":1.45,"l":1.3,"c":1.35,"v":710,"s":"d"},{"i":438,"h":1.45,"l":1.32,"c":1.4,"v":250,"s":"u"},{"i":439,"h":1.45,"l":1.35,"c":1.4,"v":230,"s":"n"},
{"i":440,"h":1.42,"l":1.28,"c":1.32,"v":780,"s":"d"},{"i":441,"h":1.38,"l":1.25,"c":1.3,"v":330,"s":"d"},{"i":442,"h":1.4,"l":1.28,"c":1.35,"v":300,"s":"u"},{"i":443,"h":1.38,"l":1.28,"c":1.32,"v":250,"s":"d"},{"i":444,"h":1.4,"l":1.3,"c":1.35,"v":280,"s":"u"},
{"i":445,"h":1.38,"l":1.25,"c":1.3,"v":350,"s":"d"},{"i":446,"h":1.36,"l":1.26,"c":1.32,"v":220,"s":"u"},{"i":447,"h":1.35,"l":1.24,"c":1.28,"v":300,"s":"d"},{"i":448,"h":1.34,"l":1.25,"c":1.3,"v":260,"s":"u"},{"i":449,"h":1.33,"l":1.22,"c":1.27,"v":200,"s":"d"},
{"i":450,"h":1.34,"l":1.24,"c":1.3,"v":300,"s":"u"},{"i":451,"h":1.36,"l":1.26,"c":1.32,"v":615,"s":"u"},{"i":452,"h":1.34,"l":1.24,"c":1.28,"v":250,"s":"d"},{"i":453,"h":1.35,"l":1.25,"c":1.3,"v":575,"s":"u"},{"i":454,"h":1.32,"l":1.2,"c":1.25,"v":300,"s":"d"},
{"i":455,"h":1.28,"l":1.18,"c":1.22,"v":350,"s":"d"},{"i":456,"h":1.3,"l":1.2,"c":1.25,"v":280,"s":"u"},{"i":457,"h":1.27,"l":1.15,"c":1.2,"v":240,"s":"d"},{"i":458,"h":1.24,"l":1.12,"c":1.18,"v":300,"s":"d"},{"i":459,"h":1.25,"l":1.14,"c":1.2,"v":260,"s":"u"},
{"i":460,"h":1.26,"l":1.16,"c":1.22,"v":615,"s":"u"},{"i":461,"h":1.24,"l":1.12,"c":1.18,"v":300,"s":"d"},{"i":462,"h":1.22,"l":1.1,"c":1.15,"v":350,"s":"d"},{"i":463,"h":1.35,"l":1.12,"c":1.25,"v":5650,"s":"u"},{"i":464,"h":1.3,"l":1.08,"c":1.15,"v":2920,"s":"d"},
{"i":465,"h":1.25,"l":1.1,"c":1.2,"v":1320,"s":"u"},{"i":466,"h":1.22,"l":1.1,"c":1.15,"v":400,"s":"d"},{"i":467,"h":1.2,"l":1.08,"c":1.12,"v":865,"s":"d"},{"i":468,"h":1.16,"l":1.08,"c":1.12,"v":560,"s":"n"},{"i":469,"h":1.2,"l":1.1,"c":1.16,"v":750,"s":"u"},
{"i":470,"h":1.18,"l":1.08,"c":1.12,"v":420,"s":"d"},{"i":471,"h":1.15,"l":1.05,"c":1.1,"v":380,"s":"d"},{"i":472,"h":1.16,"l":1.06,"c":1.12,"v":450,"s":"u"},{"i":473,"h":1.14,"l":1.04,"c":1.08,"v":500,"s":"d"},{"i":474,"h":1.14,"l":1.05,"c":1.1,"v":420,"s":"u"},
{"i":475,"h":1.12,"l":1.02,"c":1.06,"v":480,"s":"d"},{"i":476,"h":1.12,"l":1.03,"c":1.08,"v":400,"s":"u"},{"i":477,"h":1.1,"l":1,"c":1.05,"v":520,"s":"d"},{"i":478,"h":1.1,"l":1.02,"c":1.07,"v":450,"s":"u"},{"i":479,"h":1.08,"l":0.98,"c":1.03,"v":575,"s":"d"},
{"i":480,"h":1.08,"l":1,"c":1.05,"v":400,"s":"u"},{"i":481,"h":1.06,"l":0.96,"c":1,"v":615,"s":"d"},{"i":482,"h":1.06,"l":0.97,"c":1.02,"v":350,"s":"u"},{"i":483,"h":1.04,"l":0.95,"c":1,"v":300,"s":"d"},{"i":484,"h":1.03,"l":0.94,"c":0.98,"v":280,"s":"d"},
{"i":485,"h":1.08,"l":0.96,"c":1.02,"v":1210,"s":"u"},{"i":486,"h":1.04,"l":0.95,"c":0.99,"v":300,"s":"d"},{"i":487,"h":1.01,"l":0.93,"c":0.97,"v":250,"s":"d"},{"i":488,"h":1.02,"l":0.94,"c":0.98,"v":280,"s":"u"},{"i":489,"h":1,"l":0.92,"c":0.96,"v":350,"s":"d"},
{"i":490,"h":1,"l":0.93,"c":0.97,"v":250,"s":"u"},{"i":491,"h":0.99,"l":0.91,"c":0.95,"v":330,"s":"d"},{"i":492,"h":0.99,"l":0.92,"c":0.96,"v":300,"s":"u"},{"i":493,"h":0.98,"l":0.9,"c":0.94,"v":350,"s":"d"},{"i":494,"h":0.98,"l":0.91,"c":0.95,"v":280,"s":"u"},
{"i":495,"h":0.97,"l":0.89,"c":0.93,"v":320,"s":"d"},{"i":496,"h":0.96,"l":0.88,"c":0.92,"v":300,"s":"d"},{"i":497,"h":0.96,"l":0.89,"c":0.93,"v":200,"s":"u"},{"i":498,"h":0.95,"l":0.87,"c":0.91,"v":250,"s":"d"},{"i":499,"h":0.95,"l":0.88,"c":0.92,"v":180,"s":"u"},
{"i":500,"h":0.94,"l":0.86,"c":0.9,"v":260,"s":"d"},{"i":501,"h":0.94,"l":0.87,"c":0.91,"v":220,"s":"u"},{"i":502,"h":0.93,"l":0.85,"c":0.89,"v":200,"s":"d"},{"i":503,"h":0.92,"l":0.86,"c":0.9,"v":250,"s":"u"},{"i":504,"h":0.92,"l":0.87,"c":0.92,"v":120,"s":"u"}
],
"ma1":[{"i":29,"m":78.2},{"i":31,"m":77},{"i":35,"m":77.3},{"i":38,"m":79.8},{"i":41,"m":82},{"i":44.5,"m":82.5},{"i":48,"m":84},{"i":51,"m":85.8},{"i":54,"m":87.4},{"i":56.5,"m":88.4},{"i":60,"m":87.9},{"i":64,"m":88},{"i":66,"m":88.5},{"i":69,"m":87.4},{"i":73,"m":87.4},{"i":75,"m":88},{"i":76,"m":87.4},{"i":82,"m":85.2},{"i":86,"m":83.3},{"i":90,"m":82},{"i":92.6,"m":81.4},{"i":97,"m":77.7},{"i":101,"m":71.2},{"i":104.6,"m":65.8},{"i":108,"m":60.4},{"i":111,"m":55},{"i":114.4,"m":49.6},{"i":117.7,"m":43.1},{"i":121,"m":39.4},{"i":124,"m":36.7},{"i":128.6,"m":34},{"i":134,"m":32.4},{"i":140.6,"m":31.8},{"i":147,"m":32.1},{"i":151.5,"m":31.3},{"i":158,"m":29.1},{"i":164.6,"m":27},{"i":169,"m":25.9},{"i":175.5,"m":24.3},{"i":184,"m":22.7},{"i":206,"m":22.7},{"i":212.7,"m":20.5},{"i":221.4,"m":17.2},{"i":230,"m":15.6},{"i":236.7,"m":14},{"i":245.4,"m":10.8},{"i":254,"m":8.6},{"i":263,"m":6.5},{"i":271.6,"m":5.4},{"i":278,"m":5.4},{"i":287,"m":7},{"i":295.6,"m":8.6},{"i":304.4,"m":10.2},{"i":313,"m":11},{"i":319.6,"m":11},{"i":328.4,"m":9.7},{"i":335,"m":8.4},{"i":337,"m":7.5},{"i":345.8,"m":5.5},{"i":354.6,"m":3.2},{"i":362,"m":2.4},{"i":378,"m":2.3},{"i":418,"m":2},{"i":457,"m":1.8},{"i":480,"m":1.4},{"i":504,"m":1.2}],
"ma2":[{"i":89,"b":82.5},{"i":97,"b":80.9},{"i":105.7,"b":78.2},{"i":112.2,"b":75.5},{"i":118.8,"b":71.7},{"i":123.5,"b":68.5},{"i":129.7,"b":64.2},{"i":136.2,"b":59.9},{"i":142.8,"b":55.6},{"i":149.3,"b":51.2},{"i":155.9,"b":46.9},{"i":162.4,"b":42.6},{"i":169,"b":38.8},{"i":175.5,"b":34.5},{"i":184.3,"b":31.3},{"i":193,"b":28},{"i":206,"b":26.4},{"i":217,"b":24.8},{"i":228,"b":22.7},{"i":239,"b":20.5},{"i":249.8,"b":17.8},{"i":260.7,"b":15.6},{"i":271.6,"b":13.5},{"i":282.5,"b":11},{"i":293.5,"b":10.2},{"i":304.4,"b":9.9},{"i":315.3,"b":9.7},{"i":321.8,"b":9.2},{"i":337,"b":8.1},{"i":345.8,"b":7.9},{"i":359,"b":7.5},{"i":378.6,"b":5.9},{"i":398,"b":3.8},{"i":420,"b":2.2},{"i":444,"b":1.8},{"i":466,"b":1.6},{"i":503,"b":1.3}]
},
"vconcat":[
{"width":771,"height":368,
 "resolve":{"axis":{"y":"independent"}},
 "encoding":{"x":{"field":"i","type":"quantitative","scale":{"domain":[-0.5,504.5],"nice":false,"zero":false},"axis":{"values":[21.5,42.5,63.5,85.5,105.5,126.5,148.5,168.5,190.5,212.5,232.5,252.5,274.5,294.5,316.5,338.5,357.5,379.5,399.5,421.5,444.5,463.5,484.5],"grid":true,"labels":false,"ticks":false,"domain":false,"title":null,"minExtent":0,"maxExtent":0,"offset":0}}},
 "layer":[
  {"data":{"name":"px"},"mark":{"type":"rule","color":"black","strokeWidth":1.4},"encoding":{"y":{"field":"l","type":"quantitative","scale":{"domain":[0,119.1],"nice":false,"zero":false},"axis":{"orient":"right","values":[6,12,18,24,30,36,42,48,54,60,66,72,78,84,90,96,102,108,114],"format":".2f","grid":true,"labelPadding":2,"title":null,"labelOverlap":false}},"y2":{"field":"h"}}},
  {"data":{"name":"px"},"mark":{"type":"point","shape":"square","filled":true,"color":"#ff0000","size":5,"opacity":1,"strokeWidth":0},"encoding":{"y":{"field":"c","type":"quantitative","axis":null}}},
  {"data":{"name":"ma1"},"mark":{"type":"line","color":"#ff00ff","strokeWidth":1},"encoding":{"y":{"field":"m","type":"quantitative","axis":null}}},
  {"data":{"name":"ma2"},"mark":{"type":"line","color":"#0000ff","strokeWidth":1},"encoding":{"y":{"field":"b","type":"quantitative","axis":null}}},
  {"data":{"values":[{"i":3.4,"y":115.9,"t":"US:IDEX"}]},"mark":{"type":"text","align":"left","baseline":"middle","font":"Liberation Sans","fontSize":13.5,"color":"black"},"encoding":{"y":{"field":"y","type":"quantitative","axis":null},"text":{"field":"t"}}}
 ]},
{"width":771,"height":106,
 "resolve":{"axis":{"y":"independent"}},
 "encoding":{"x":{"field":"i","type":"quantitative","scale":{"domain":[-0.5,504.5],"nice":false,"zero":false},"axis":{"values":[21.5,42.5,63.5,85.5,105.5,126.5,148.5,168.5,190.5,212.5,232.5,252.5,274.5,294.5,316.5,338.5,357.5,379.5,399.5,421.5,444.5,463.5,484.5],"grid":true,"labels":false,"ticks":false,"domain":false,"title":null,"minExtent":0,"maxExtent":0,"offset":0}}},
 "layer":[
  {"data":{"name":"px"},"mark":{"type":"bar","size":1.4},"encoding":{"y":{"field":"v","type":"quantitative","scale":{"domain":[-100,6000],"nice":false,"zero":false},"axis":{"orient":"right","values":[1500,3000,4500],"labelExpr":"format(datum.value/1000,'.1f')+' M'","grid":true,"labelPadding":2,"title":null,"labelOverlap":false}},"y2":{"datum":-100},"color":{"field":"s","type":"nominal","scale":{"domain":["u","d","n"],"range":["#50b848","#ff0000","#a0a0a0"]},"legend":null}}},
  {"data":{"values":[{"i":3.4,"y":5370,"t":"Volume"}]},"mark":{"type":"text","align":"left","baseline":"middle","font":"Liberation Sans","fontSize":13.5,"color":"black"},"encoding":{"y":{"field":"y","type":"quantitative","axis":null},"text":{"field":"t"}}}
 ]},
{"width":771,"height":32,
 "encoding":{"x":{"field":"i","type":"quantitative","scale":{"domain":[-0.5,504.5],"nice":false,"zero":false},"axis":null}},
 "layer":[
  {"data":{"values":[{"i":168.5},{"i":421.5}]},"mark":{"type":"rule","color":"black","strokeWidth":2},"encoding":{"y":{"datum":0,"type":"quantitative","scale":{"domain":[0,2],"nice":false,"zero":false},"axis":null},"y2":{"datum":2}}},
  {"data":{"values":[{"i":-0.5,"j":504.5}]},"mark":{"type":"rule","color":"black","strokeWidth":2},"encoding":{"x2":{"field":"j"},"y":{"datum":1,"axis":null}}},
  {"data":{"values":[{"i":83,"yr":"2022"},{"i":295,"yr":"2023"},{"i":463,"yr":"2024"}]},"mark":{"type":"text","font":"Liberation Sans","fontSize":12.5,"baseline":"middle","color":"black"},"encoding":{"y":{"datum":0.5,"axis":null},"text":{"field":"yr"}}}
 ]}
]
}
